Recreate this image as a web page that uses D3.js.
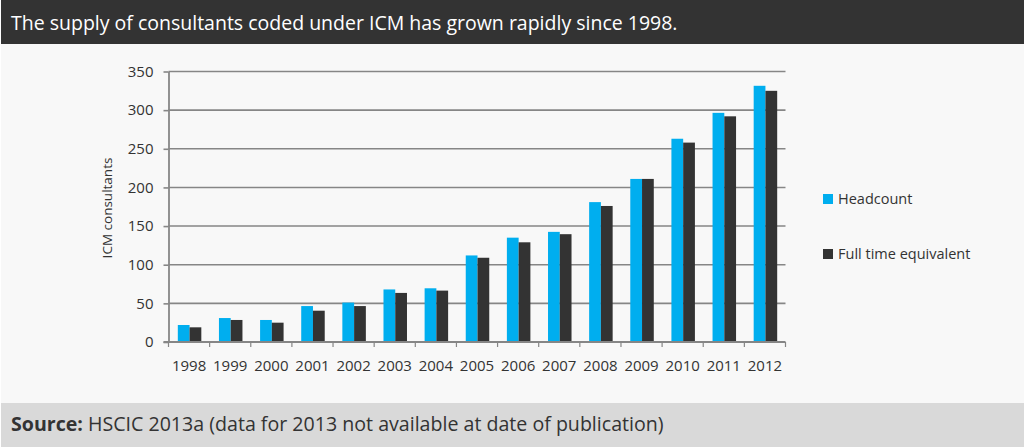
<!DOCTYPE html>
<html>
<head>
<meta charset="utf-8">
<script src="https://cdn.jsdelivr.net/npm/d3@7"></script>
<style>
  html, body { margin: 0; padding: 0; background: #fff; overflow: hidden; }
  text { font-family: "Open Sans", sans-serif; }
</style>
</head>
<body>
<script>
const years = ['1998', '1999', '2000', '2001', '2002', '2003', '2004', '2005', '2006', '2007', '2008', '2009', '2010', '2011', '2012']
const headcount = [22, 31, 28.5, 46.5, 51, 68, 69.5, 112, 135, 142.5, 181, 211, 263, 296.5, 331.5]
const fullTime = [19, 28.5, 25, 40.5, 46.5, 63.5, 66.5, 109, 129, 139.5, 176, 211, 258, 292, 325]
const yTicks = [0, 50, 100, 150, 200, 250, 300, 350]
const seriesNames = ['Headcount', 'Full time equivalent']
const seriesColors = ['#00aeef', '#333333']

const frame = { width: 1024, height: 447, left: 168.5, right: 785.5, top: 71.5, bottom: 342 }

const svg = d3.select('body').append('svg')
  .attr('width', frame.width)
  .attr('height', frame.height)
  .style('display', 'block')

// nen, thanh tieu de, chan trang
svg.append('rect').attr('x', 1).attr('width', frame.width - 1).attr('height', frame.height).attr('fill', '#f8f8f8')
svg.append('rect').attr('x', 1).attr('width', frame.width - 1).attr('height', 44).attr('fill', '#333333')
svg.append('rect').attr('x', 1).attr('y', 403).attr('width', frame.width - 1).attr('height', 44).attr('fill', '#d9d9d9')

svg.append('text')
  .attr('x', 11).attr('y', 30)
  .attr('font-size', 19.5)
  .attr('fill', '#ffffff')
  .text('The supply of consultants coded under ICM has grown rapidly since 1998.')

const source = svg.append('text')
  .attr('x', 11).attr('y', 431)
  .attr('font-size', 19.6)
  .attr('fill', '#333333')
source.append('tspan').attr('font-weight', 700).text('Source:')
source.append('tspan').text(' HSCIC 2013a (data for 2013 not available at date of publication)')

const x = d3.scaleBand().domain(years).range([frame.left, frame.right]).padding(0)
const inner = d3.scaleBand().domain(seriesNames).range([0, x.bandwidth()]).paddingInner(0).paddingOuter(0.75)
const y = d3.scaleLinear().domain([0, 350]).range([frame.bottom, frame.top])

// luoi ngang + truc Y
const yAxis = svg.append('g')
  .attr('transform', `translate(${frame.left},0)`)
  .call(d3.axisLeft(y).tickValues(yTicks).tickSize(5).tickSizeOuter(0).tickPadding(10))
yAxis.select('.domain').attr('stroke', '#868686').attr('stroke-width', 1.8)
yAxis.selectAll('.tick line').attr('stroke', '#868686').attr('stroke-width', 1.6)
yAxis.selectAll('text').attr('font-size', 15).attr('fill', '#333333').attr('font-family', '"Open Sans", sans-serif')

svg.append('g').selectAll('line')
  .data(yTicks.filter(d => d > 0))
  .join('line')
  .attr('x1', frame.left).attr('x2', frame.right)
  .attr('y1', d => y(d)).attr('y2', d => y(d))
  .attr('stroke', '#868686').attr('stroke-width', 1.6)

// cot
seriesNames.forEach((name, s) => {
  const values = s === 0 ? headcount : fullTime
  svg.append('g').selectAll('rect')
    .data(years)
    .join('rect')
    .attr('x', d => x(d) + inner(name) + 0.5)
    .attr('width', inner.bandwidth())
    .attr('y', (d, i) => y(values[i]))
    .attr('height', (d, i) => y(0) - y(values[i]))
    .attr('fill', seriesColors[s])
})

// truc X
const xAxis = svg.append('g')
  .attr('transform', `translate(0,${frame.bottom})`)
  .call(d3.axisBottom(x).tickSize(0).tickPadding(18))
xAxis.select('.domain').remove()
xAxis.selectAll('text').attr('font-size', 15).attr('fill', '#333333').attr('font-family', '"Open Sans", sans-serif')
svg.append('line')
  .attr('x1', frame.left - 5).attr('x2', frame.right)
  .attr('y1', y(0)).attr('y2', y(0))
  .attr('stroke', '#868686').attr('stroke-width', 1.8)
svg.append('g').selectAll('line')
  .data(d3.range(years.length + 1))
  .join('line')
  .attr('x1', i => frame.left + i * x.step()).attr('x2', i => frame.left + i * x.step())
  .attr('y1', y(0)).attr('y2', y(0) + 5)
  .attr('stroke', '#868686').attr('stroke-width', 1.2)

svg.append('text')
  .attr('transform', 'translate(112,208) rotate(-90)')
  .attr('text-anchor', 'middle')
  .attr('font-size', 13.5)
  .attr('fill', '#333333')
  .text('ICM consultants')

// chu giai
const legendY = d3.scalePoint().domain(seriesNames).range([199, 254])
seriesNames.forEach((name, s) => {
  svg.append('rect')
    .attr('x', 823).attr('y', legendY(name) - 5)
    .attr('width', 10).attr('height', 10)
    .attr('fill', seriesColors[s])
  svg.append('text')
    .attr('x', 838).attr('y', legendY(name) + 5)
    .attr('font-size', 14.5)
    .attr('fill', '#333333')
    .text(name)
})
</script>
</body>
</html>
